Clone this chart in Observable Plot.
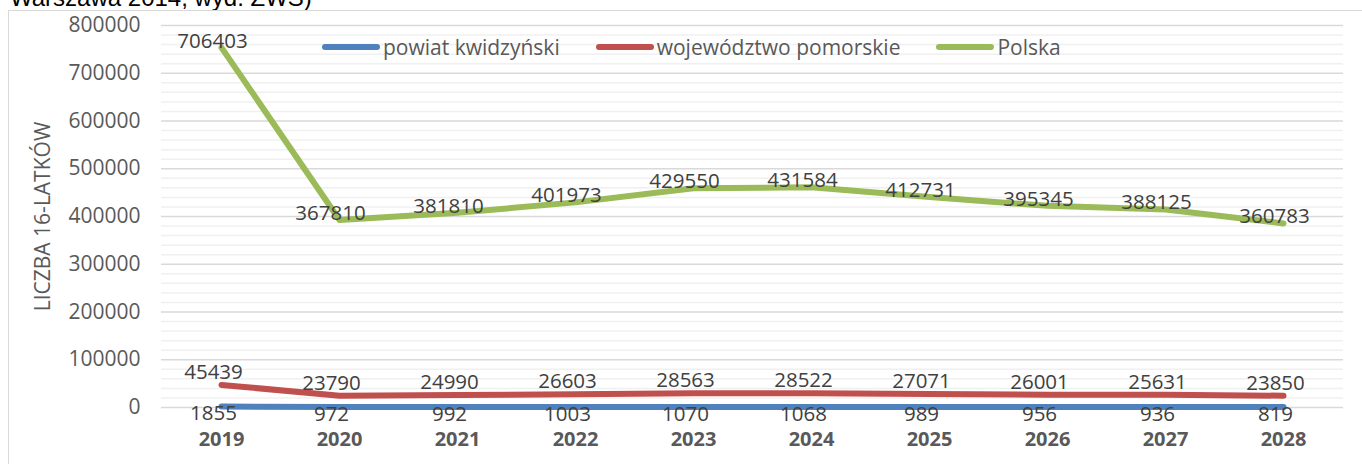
<!DOCTYPE html>
<html>
<head>
<meta charset="utf-8">
<script src="https://cdn.jsdelivr.net/npm/d3@7"></script>
<script src="https://cdn.jsdelivr.net/npm/@observablehq/plot@0.6"></script>
<style>
  html, body { margin: 0; padding: 0; background: #fff; }
  body { width: 1362px; height: 464px; position: relative; overflow: hidden; font-family: "Open Sans", sans-serif; }
  #source { position: absolute; left: 10px; top: -15px; font-family: "Liberation Sans", Arial, sans-serif; font-size: 24px; line-height: 26px; color: #000; white-space: nowrap; }
  #box { position: absolute; left: 8px; top: 10px; width: 1400px; height: 500px; border: 1.5px solid #d9d9d9; box-sizing: border-box; }
  #chart { position: absolute; left: 0; top: 0; }
  #legend { position: absolute; left: 322px; top: 33px; display: flex; align-items: center; font-size: 21px; color: #595959; white-space: nowrap; }
  .item { display: flex; align-items: center; margin-right: 36px; }
  .sw { width: 58px; height: 6px; border-radius: 3px; margin-right: 3px; }
</style>
</head>
<body>
<div id="source">Warszawa 2014, wyd. ZWS)</div>
<div id="box"></div>
<div id="chart"></div>
<div id="legend"></div>
<script>
const years = [2019, 2020, 2021, 2022, 2023, 2024, 2025, 2026, 2027, 2028];
const kwidzyn = [1855, 972, 992, 1003, 1070, 1068, 989, 956, 936, 819];
const pomorskie = [45439, 23790, 24990, 26603, 28563, 28522, 27071, 26001, 25631, 23850];
const polska = [706403, 367810, 381810, 401973, 429550, 431584, 412731, 395345, 388125, 360783];
const seriesNames = ["powiat kwidzyński", "województwo pomorskie", "Polska"];
const colors = ["#4F81BD", "#C0504D", "#9BBB59"];
const yTicks = [0, 100000, 200000, 300000, 400000, 500000, 600000, 700000, 800000];
const minorTicks = d3.range(0, 800001, 20000).filter(v => v % 100000 !== 0);

// stacked line chart (cumulative values), labels show raw values
const table = [];
years.forEach((yr, i) => {
  const vals = [kwidzyn[i], pomorskie[i], polska[i]];
  let cum = 0;
  vals.forEach((v, s) => {
    cum += v;
    table.push({year: String(yr), series: seriesNames[s], s, value: v, top: cum});
  });
});
const bySeries = s => table.filter(d => d.s === s);

const chart = Plot.plot({
  width: 1362,
  height: 464,
  marginLeft: 161,
  marginRight: 19,
  marginTop: 25,
  marginBottom: 57,
  style: {fontFamily: "'Open Sans', sans-serif", fontSize: "21px", color: "#595959", background: "transparent"},
  x: {type: "band", domain: years.map(String), padding: 0},
  y: {domain: [0, 800000]},
  marks: [
    Plot.ruleY(minorTicks, {stroke: "#f0f0f0", strokeWidth: 1.5}),
    Plot.ruleY(yTicks, {stroke: "#d9d9d9", strokeWidth: 1.5}),
    Plot.axisY({ticks: yTicks, tickSize: 0, tickPadding: 21, tickFormat: d => String(d), fontSize: 21, fill: "#595959",
      label: "LICZBA 16-LATKÓW", labelAnchor: "center", labelArrow: "none", labelOffset: 126}),
    Plot.axisX({tickSize: 0, tickPadding: 24, fontWeight: "bold", fontSize: 20, fill: "#595959", label: null}),
    Plot.line(bySeries(2), {x: "year", y: "top", stroke: colors[2], strokeWidth: 6, strokeLinecap: "round", strokeLinejoin: "round"}),
    Plot.line(bySeries(1), {x: "year", y: "top", stroke: colors[1], strokeWidth: 6, strokeLinecap: "round", strokeLinejoin: "round"}),
    Plot.line(bySeries(0), {x: "year", y: "top", stroke: colors[0], strokeWidth: 6, strokeLinecap: "round", strokeLinejoin: "round"}),
    Plot.text(bySeries(2), {x: "year", y: "top", text: d => String(d.value), lineAnchor: "bottom", dx: -9, dy: 0, fill: "#404040", fontSize: 20.5}),
    Plot.text(bySeries(1), {x: "year", y: "top", text: d => String(d.value), lineAnchor: "bottom", dx: -8, dy: -6, fill: "#404040", fontSize: 20.5}),
    Plot.text(bySeries(0), {x: "year", y: "top", text: d => String(d.value), lineAnchor: "top", dx: -8, dy: -1, fill: "#404040", fontSize: 20.5})
  ]
});
document.getElementById("chart").append(chart);

const legend = document.getElementById("legend");
seriesNames.forEach((name, i) => {
  const item = document.createElement("div");
  item.className = "item";
  const sw = document.createElement("div");
  sw.className = "sw";
  sw.style.background = colors[i];
  const label = document.createElement("span");
  label.textContent = name;
  item.append(sw, label);
  legend.append(item);
});
</script>
</body>
</html>
